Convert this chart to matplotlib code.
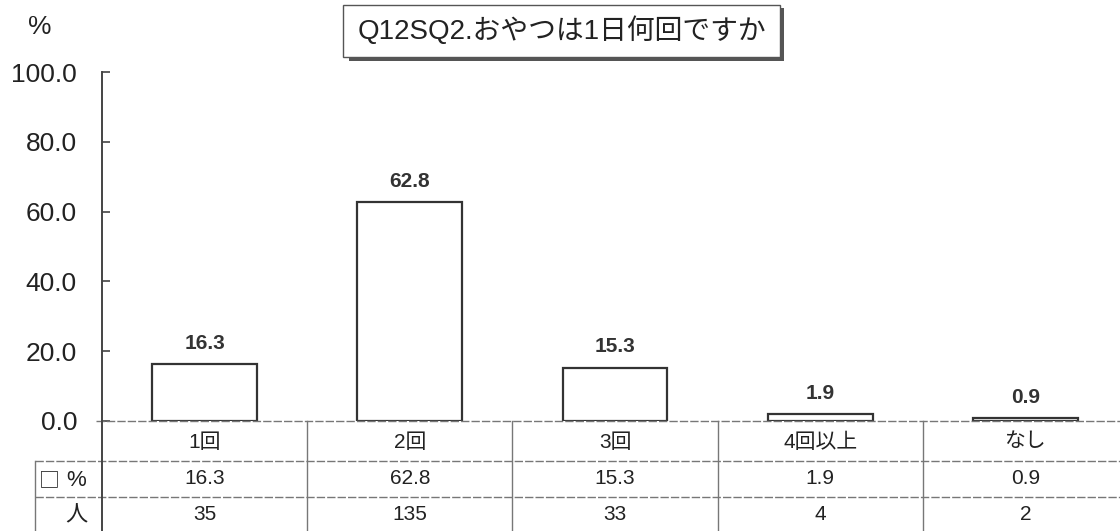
import matplotlib
matplotlib.use("Agg")
import matplotlib.pyplot as plt
from matplotlib.patches import Rectangle
from matplotlib.transforms import blended_transform_factory

# data
categories = ["1回", "2回", "3回", "4回以上", "なし"]
percents = [16.3, 62.8, 15.3, 1.9, 0.9]
counts = [35, 135, 33, 4, 2]
title = "Q12SQ2.おやつは1日何回ですか"

plt.rcParams['font.family'] = ['Liberation Sans', 'Noto Sans CJK JP', 'DejaVu Sans']
ink = "#222222"
grid = "#777777"

W, H = 1120, 531
fig = plt.figure(figsize=(W / 100, H / 100), dpi=100)

def fx(px):
    return px / W

def fy(py):
    return 1 - py / H

ax = fig.add_axes([fx(102), fy(421), fx(1128) - fx(102), fy(72) - fy(421)])
x = list(range(len(categories)))
ax.bar(x, percents, width=0.51, color="white", edgecolor="#333333", linewidth=1.6)
for xi, v in zip(x, percents):
    ax.annotate("%.1f" % v, (xi, v), xytext=(0, 8), textcoords="offset points",
                ha="center", va="bottom", fontsize=15, fontweight="bold", color="#333333")

ax.set_xlim(-0.5, len(categories) - 0.5)
ax.set_ylim(0, 100)
ax.set_yticks([0, 20, 40, 60, 80, 100])
ax.set_yticklabels(["%.1f" % t for t in [0, 20, 40, 60, 80, 100]], fontsize=19, color=ink)
ax.tick_params(axis="y", direction="in", length=6, width=1.2, color="#444444", pad=18)
ax.set_xticks([])
for s in ["top", "right", "bottom"]:
    ax.spines[s].set_visible(False)
ax.spines["left"].set_color("#444444")
ax.spines["left"].set_linewidth(1.4)

# table below the axis
tr = blended_transform_factory(ax.transData, fig.transFigure)
dash = (0, (6, 1.5))
fig.add_artist(plt.Line2D([fx(96), fx(W)], [fy(421), fy(421)], color=grid, lw=1.0, ls=dash))
for py in [461, 497]:
    fig.add_artist(plt.Line2D([fx(35), fx(W)], [fy(py), fy(py)], color=grid, lw=1.0, ls=dash))
for i in range(1, len(categories)):
    xv = i - 0.5
    ax.add_line(plt.Line2D([xv, xv], [fy(421), fy(531)], transform=tr, color=grid, lw=1.0, clip_on=False))
fig.add_artist(plt.Line2D([fx(102), fx(102)], [fy(421), fy(531)], color="#444444", lw=1.4))
fig.add_artist(plt.Line2D([fx(35), fx(35)], [fy(461), fy(531)], color=grid, lw=1.0))

for xi, cat, p, n in zip(x, categories, percents, counts):
    ax.text(xi, fy(442), cat, transform=tr, ha="center", va="center", fontsize=15, color=ink)
    ax.text(xi, fy(479), "%.1f" % p, transform=tr, ha="center", va="center", fontsize=15, color=ink)
    ax.text(xi, fy(514), str(n), transform=tr, ha="center", va="center", fontsize=15, color=ink)

fig.text(fx(39), fy(480), "□", ha="left", va="center", fontsize=15, color=ink,
         family=['Noto Sans CJK JP', 'DejaVu Sans'])
fig.text(fx(86), fy(480), "%", ha="right", va="center", fontsize=16, color=ink)
fig.text(fx(88), fy(515), "人", ha="right", va="center", fontsize=16, color=ink,
         family=['Noto Sans CJK JP', 'DejaVu Sans'])

# "%" unit label
fig.text(fx(40), fy(27), "%", ha="center", va="center", fontsize=19, color=ink)

# title box with shadow
fig.add_artist(Rectangle((fx(349), fy(61)), fx(784) - fx(349), fy(8) - fy(61),
                         transform=fig.transFigure, facecolor="#555555", edgecolor="none"))
fig.add_artist(Rectangle((fx(343), fy(57)), fx(780) - fx(343), fy(5) - fy(57),
                         transform=fig.transFigure, facecolor="white", edgecolor="#555555", lw=1.0))
fig.text(fx(562), fy(31), title, ha="center", va="center", fontsize=20, color=ink)

fig.savefig("out.png", dpi=100)
